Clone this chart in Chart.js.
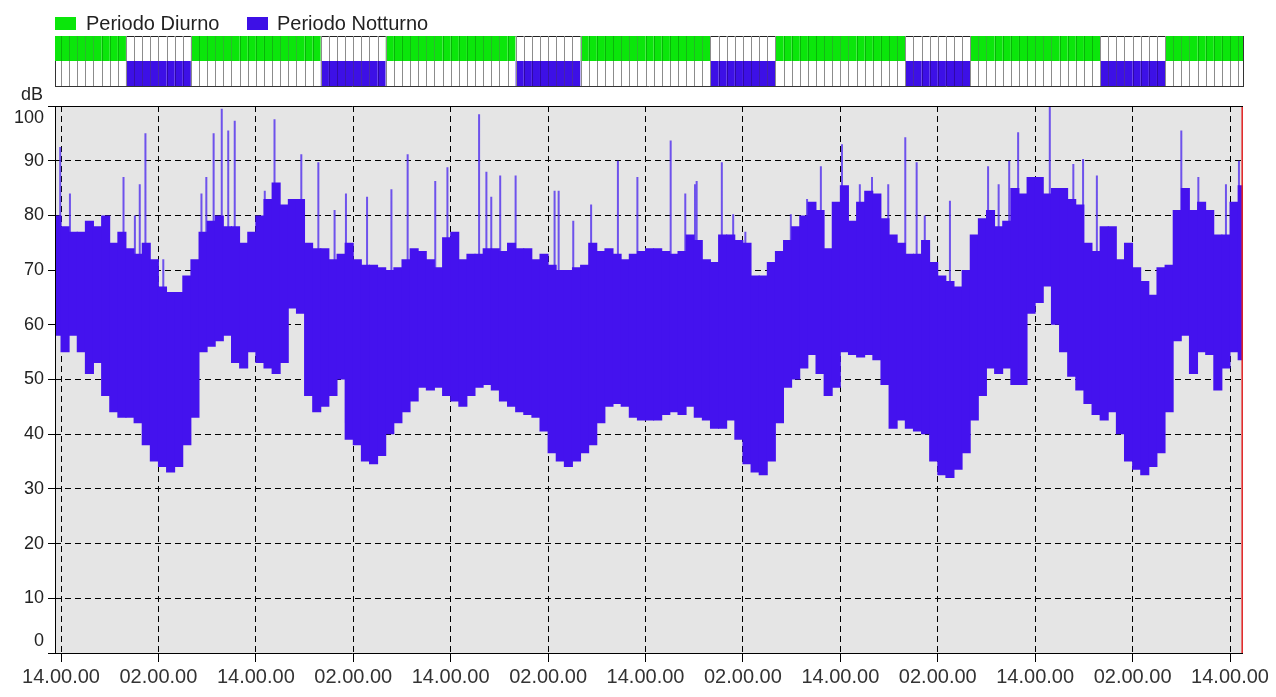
<!DOCTYPE html>
<html><head><meta charset="utf-8">
<script src="https://cdn.jsdelivr.net/npm/chart.js@4.4.1/dist/chart.umd.min.js"></script>
<style>html,body{margin:0;padding:0;background:#fff;}canvas{display:block;}</style>
</head><body>
<canvas id="c" width="1276" height="697" style="width:1276px;height:697px"></canvas>
<script>
// ---- data (hours counted from the first 14.00.00 tick) ----
const legendLabels = ['Periodo Diurno', 'Periodo Notturno'];
const yUnit = 'dB';
const xTickHours = [0, 12, 24, 36, 48, 60, 72, 84, 96, 108, 120, 132, 144];
const xTickLabels = ['14.00.00','02.00.00','14.00.00','02.00.00','14.00.00','02.00.00','14.00.00','02.00.00','14.00.00','02.00.00','14.00.00','02.00.00','14.00.00'];
const startClockHour = 14;
const dayFrom = 6, dayTo = 22;
const firstHour = -1;
// hourly envelope of the level (dB), hours -1 .. 145
const coreLow = [
 58,55,58,55,51,53,47,44,43,43,42,38,35,34,33,34,38,43,55,56,57,58,53,52,55,
 53,52,51,53,63,62,47,44,45,47,50,39,38,35,34.5,36,40,42,44,46,48.5,48,48.5,47,
 46,45,47,48.5,49,48,46,45,44,43.5,43,40.5,36.5,35,34,35,36.5,38,42,45,45.5,45,43,42.5,
 42.5,42.5,43.5,44,43.5,45,43,42.5,41,41,42.5,39,34.5,33,32.5,35,42,48.5,50,52,54.5,51,47,48.5,
 55,54.5,54,54.5,53.5,49,41,42.5,41,40.5,40,35,32.5,32,33.5,36.5,42.5,47,52,51,52,49,49,62,
 64,67,60,55,50.5,48,45.5,43.5,42.5,44,40,35,33.5,32.5,34,36.5,44,57,58,51,55,54.5,48,52,
 55,53.5
];
const coreHigh = [
 80,78,77,77,79,78,80,75,77,74,73,75,72,67,66,66,69,72,77,79,80,78,78,75,77,
 80,83,86,82,83,83,75,74,74,72,73,75,72,71,71,70.5,70,70.5,72,74,73.5,72,70.5,76,
 77,72,73,73,74,74,73.5,75,74,74,72,73,71,70,70,70.5,71,75,73.5,74,73,72,73,73.5,
 74,74,73.5,73,73.5,76.5,75.5,72,71.5,76.5,76.5,75.5,75,69,69,71.5,73.5,75.5,78,80,82.5,81,74,82.5,
 85.5,79,82.5,84.5,84,79.5,76.5,75,73,73,75.5,71.5,69,68,67,70,76.5,79.5,81,78,79,85,84,87,
 87,84,85,85,83,82,75,73.5,78,78,72,75,70.5,68,65.5,70.5,71,81,85,81,82.5,81,76.5,76.5,
 82.5,85.5
];
// isolated peaks (hour, dB)
const spikeHour = [-0.1,1.1,7.7,9.1,9.7,10.4,12.6,17.3,17.9,18.8,19.8,20.6,21.4,
 25.1,26.3,29.6,31.7,33.7,35.1,37.7,40.7,42.7,46.1,47.6,
 51.5,52.4,53.0,54.1,56.0,60.8,61.3,63.1,65.3,68.6,71.0,
 75.1,76.9,78.1,78.3,81.4,82.8,84.3,89.9,91.9,93.6,96.2,
 98.4,99.9,101.9,104.0,105.4,106.4,109.5,114.2,115.5,116.8,117.9,121.8,
 124.7,125.9,127.6,138.0,140.1,143.5,145.1];
const spikeTop = [92.5,84,87,80,85.7,95,72,84,87,95,99.5,95.5,97.3,
 84.5,97.6,91.2,89.7,81,84,83.4,84.8,91.2,86.3,88.8,
 98.5,88,83.4,87.3,87.3,84.5,84.5,79,82,90,87,
 93.7,84,85.7,86.3,89.7,80.2,77,80.2,83,89,93,
 85.7,87,85.7,94.3,89.7,80,82.7,89,85.7,90,95.2,100,
 89.4,90.3,87.3,95.5,87,85.7,90];
const cursorHour = 145.5;
const axisMinHour = -0.74, axisMaxHour = 145.6;

// ---- colours ----
const cCore = '#4412ee';
const cSpike = 'rgba(80,45,238,0.8)';
const cGreen = '#0be60b';
const cBlue = '#3d10e6';
const FONT = "'Liberation Sans', Arial, sans-serif";

// ---- build datasets ----
const coreData = coreLow.map((lo, i) => ({ x: firstHour + i + 0.5, y: [lo, coreHigh[i]] }));
const spikeData = [];
spikeHour.forEach((h, i) => {
  const idx = Math.min(coreLow.length - 1, Math.max(0, Math.floor(h) - firstHour));
  spikeData.push({ x: h, y: coreLow[idx] + 3 });
  spikeData.push({ x: h, y: spikeTop[i] });
  spikeData.push({ x: h, y: null });
});

const isDay = h => { const c = ((startClockHour + h) % 24 + 24) % 24; return c >= dayFrom && c < dayTo; };

const decor = {
  id: 'decor',
  beforeDraw(chart) {
    const { ctx, chartArea: a } = chart;
    ctx.save();
    ctx.fillStyle = '#ffffff';
    ctx.fillRect(0, 0, chart.width, chart.height);
    ctx.fillStyle = '#e5e5e5';
    ctx.fillRect(a.left, a.top, a.right - a.left, a.bottom - a.top);
    ctx.restore();
  },
  afterDatasetsDraw(chart) {
    const { ctx, chartArea: a } = chart;
    ctx.save();
    ctx.strokeStyle = '#000';
    ctx.lineWidth = 1;
    ctx.setLineDash([]);
    ctx.beginPath();
    ctx.moveTo(a.left + 0.5, a.top + 0.5);
    ctx.lineTo(a.right, a.top + 0.5);
    ctx.moveTo(a.left + 0.5, a.top);
    ctx.lineTo(a.left + 0.5, a.bottom + 0.5);
    ctx.lineTo(a.right, a.bottom + 0.5);
    ctx.stroke();
    ctx.restore();
  },
  afterDraw(chart) {
    const { ctx, chartArea: a } = chart;
    const xs = chart.scales.x;
    ctx.save();
    // period band
    const y0 = 36, ym = 61, y1 = 86;
    for (let h = firstHour; h < axisMaxHour; h++) {
      const px0 = Math.max(a.left, xs.getPixelForValue(h));
      const px1 = Math.min(a.right + 1, xs.getPixelForValue(h + 1));
      if (px1 <= px0) continue;
      const d = isDay(h);
      ctx.fillStyle = d ? cGreen : '#ffffff';
      ctx.fillRect(px0, y0, px1 - px0, ym - y0);
      ctx.fillStyle = d ? '#ffffff' : cBlue;
      ctx.fillRect(px0, ym, px1 - px0, y1 - ym);
      if (!d) {
        ctx.fillStyle = '#222';
        ctx.fillRect(px0, y0, px1 - px0, 1);
      }
    }
    for (let h = firstHour + 1; h < axisMaxHour; h++) {
      const px = Math.round(xs.getPixelForValue(h)) + 0.5;
      if (px <= a.left || px >= a.right) continue;
      const d = isDay(h) && isDay(h - 1);
      const n = !isDay(h) && !isDay(h - 1);
      ctx.strokeStyle = d ? 'rgba(0,90,0,0.35)' : '#8c8c8c';
      ctx.beginPath(); ctx.moveTo(px, y0); ctx.lineTo(px, ym); ctx.stroke();
      ctx.strokeStyle = n ? 'rgba(30,0,90,0.45)' : '#8c8c8c';
      ctx.beginPath(); ctx.moveTo(px, ym); ctx.lineTo(px, y1); ctx.stroke();
    }
    ctx.strokeStyle = '#333';
    ctx.beginPath();
    ctx.moveTo(a.left, y1 + 0.5); ctx.lineTo(a.right + 1, y1 + 0.5);
    ctx.moveTo(a.left + 0.5, ym); ctx.lineTo(a.left + 0.5, y1);
    ctx.moveTo(a.right + 0.5, y0); ctx.lineTo(a.right + 0.5, y1);
    ctx.stroke();

    // legend
    ctx.font = '20px ' + FONT;
    ctx.textBaseline = 'alphabetic';
    ctx.fillStyle = cGreen;
    ctx.fillRect(55, 17, 21, 13);
    ctx.fillStyle = '#222';
    ctx.fillText(legendLabels[0], 86, 30);
    ctx.fillStyle = cBlue;
    ctx.fillRect(247, 17, 21, 13);
    ctx.fillStyle = '#222';
    ctx.fillText(legendLabels[1], 277, 30);

    // unit
    ctx.font = '18px ' + FONT;
    ctx.textAlign = 'right';
    ctx.fillText(yUnit, 43, 100);
    ctx.restore();
  }
};

new Chart(document.getElementById('c'), {
  type: 'bar',
  data: {
    datasets: [
      {
        type: 'line',
        data: [{ x: cursorHour, y: 0 }, { x: cursorHour, y: 100 }],
        borderColor: '#e02020', borderWidth: 1.5, pointRadius: 0, order: 0
      },
      {
        type: 'bar',
        data: coreData,
        backgroundColor: cCore,
        borderWidth: 0,
        barPercentage: 1.12, categoryPercentage: 1,
        grouped: false, order: 1
      },
      {
        type: 'line',
        data: spikeData,
        borderColor: cSpike, borderWidth: 2, pointRadius: 0,
        spanGaps: false, order: 2
      }
    ]
  },
  options: {
    responsive: false,
    animation: false,
    devicePixelRatio: 1,
    layout: { padding: { top: 106, right: 33, left: 0, bottom: 0 } },
    plugins: { legend: { display: false }, tooltip: { enabled: false } },
    scales: {
      x: {
        type: 'linear', min: axisMinHour, max: axisMaxHour,
        offset: false,
        afterBuildTicks: s => { s.ticks = xTickHours.map(v => ({ value: v })); },
        afterFit: s => { s.height = 44; },
        ticks: {
          autoSkip: false, maxRotation: 0, minRotation: 0,
          callback: (v, i) => xTickLabels[i],
          color: '#333', padding: 3,
          font: { family: FONT, size: 20 }
        },
        grid: { offset: false, color: '#000', lineWidth: 1, tickLength: 9, tickColor: '#000', tickBorderDash: [] },
        border: { display: false, dash: [6, 4] }
      },
      y: {
        min: 0, max: 100,
        afterBuildTicks: s => { const t = []; for (let v = 0; v <= 100; v += 10) t.push({ value: v }); s.ticks = t; },
        afterFit: s => { s.width = 55; },
        ticks: {
          color: '#222', padding: 4,
          font: { family: FONT, size: 18, lineHeight: 1.3 },
          callback: v => v === 0 ? ['0', ''] : (v === 100 ? ['', '100'] : String(v))
        },
        grid: { color: '#000', lineWidth: 1, tickLength: 7, tickColor: '#000', tickBorderDash: [] },
        border: { display: false, dash: [6, 4] }
      }
    }
  },
  plugins: [decor]
});
</script>
</body></html>
